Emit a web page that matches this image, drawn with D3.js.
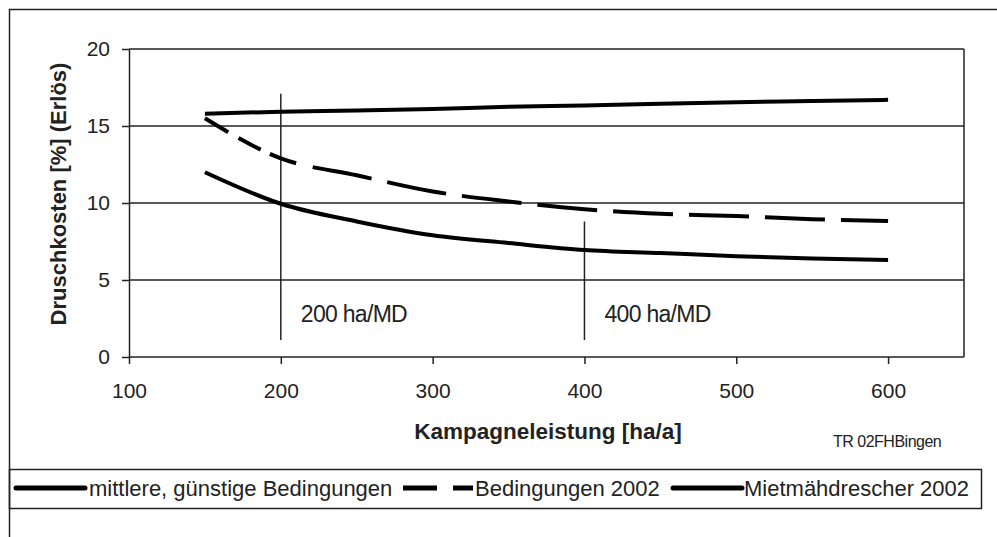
<!DOCTYPE html>
<html lang="de">
<head>
<meta charset="UTF-8">
<title>Druschkosten</title>
<script src="https://d3js.org/d3.v7.min.js"></script>
<style>
  body { margin: 0; background: #fff; }
  svg { display: block; font-family: "Liberation Sans", Arial, sans-serif; }
  .tick text { fill: #222; font-size: 21px; }
  .axis path, .axis line { stroke: #222; stroke-width: 1.5px; }
  .grid line { stroke: #222; stroke-width: 1.5px; }
</style>
</head>
<body>
<div id="chart"></div>
<script>
  // values
  const xValues = [150, 200, 250, 300, 350, 400, 450, 500, 550, 600];
  const mittlere = [12.0, 9.95, 8.8, 7.9, 7.4, 6.95, 6.75, 6.55, 6.4, 6.3];
  const bedingungen2002 = [15.5, 12.9, 11.8, 10.75, 10.1, 9.6, 9.3, 9.15, 8.95, 8.83];
  const mietmaehdrescher = [15.8, 15.93, 16.0, 16.1, 16.25, 16.33, 16.45, 16.55, 16.62, 16.7];
  const seriesNames = ["mittlere, günstige Bedingungen", "Bedingungen 2002", "Mietmähdrescher 2002"];
  const xTicks = [100, 200, 300, 400, 500, 600];
  const yTicks = [0, 5, 10, 15, 20];
  // vertical marker lines: x, from y, to y, label
  const markers = [
    { x: 200, y0: 1.1, y1: 17.1, label: "200 ha/MD" },
    { x: 400, y0: 1.1, y1: 8.8, label: "400 ha/MD" }
  ];

  const width = 997, height = 537;
  const plot = { left: 129, top: 49, right: 964, bottom: 357 };

  const svg = d3.select("#chart").append("svg")
    .attr("width", width)
    .attr("height", height);

  // outer frame
  svg.append("rect")
    .attr("x", 9.5).attr("y", 9.5)
    .attr("width", width).attr("height", height)
    .attr("fill", "none").attr("stroke", "#222").attr("stroke-width", 1.5);

  const x = d3.scaleLinear().domain([100, 650]).range([plot.left, plot.right]);
  const y = d3.scaleLinear().domain([0, 20]).range([plot.bottom, plot.top]);

  // horizontal grid
  svg.append("g").attr("class", "grid")
    .selectAll("line")
    .data(yTicks.filter(d => d > 0))
    .join("line")
    .attr("x1", plot.left).attr("x2", plot.right)
    .attr("y1", d => y(d)).attr("y2", d => y(d));

  // right border of the plot area
  svg.append("line")
    .attr("x1", plot.right).attr("x2", plot.right)
    .attr("y1", plot.top).attr("y2", plot.bottom)
    .attr("stroke", "#222").attr("stroke-width", 1.5);

  svg.append("g").attr("class", "axis")
    .attr("transform", `translate(0,${plot.bottom})`)
    .call(d3.axisBottom(x).tickValues(xTicks).tickSize(7).tickPadding(19).tickSizeOuter(0))
    .call(g => g.select(".domain").attr("d", `M${plot.left},0H${plot.right}`));

  svg.append("g").attr("class", "axis")
    .attr("transform", `translate(${plot.left},0)`)
    .call(d3.axisLeft(y).tickValues(yTicks).tickSize(7).tickPadding(12).tickSizeOuter(0));

  // marker lines
  svg.append("g").selectAll("line")
    .data(markers)
    .join("line")
    .attr("x1", d => x(d.x)).attr("x2", d => x(d.x))
    .attr("y1", d => y(d.y0)).attr("y2", d => y(d.y1))
    .attr("stroke", "#222").attr("stroke-width", 1.5);

  svg.append("g").selectAll("text")
    .data(markers)
    .join("text")
    .attr("x", d => x(d.x) + 20)
    .attr("y", y(2.3))
    .attr("font-size", 23)
    .attr("letter-spacing", -0.7)
    .attr("fill", "#222")
    .text(d => d.label);

  const line = d3.line()
    .x((d, i) => x(xValues[i]))
    .y(d => y(d))
    .curve(d3.curveMonotoneX);

  const dash = "27,12,25,10,28,17," + d3.range(10).map(() => "60,16").join(",");

  const series = [
    { values: mittlere, dash: null },
    { values: bedingungen2002, dash: dash },
    { values: mietmaehdrescher, dash: null }
  ];

  svg.append("g").selectAll("path")
    .data(series)
    .join("path")
    .attr("d", d => line(d.values))
    .attr("fill", "none")
    .attr("stroke", "#000")
    .attr("stroke-width", 4)
    .attr("stroke-dasharray", d => d.dash);

  // axis titles
  svg.append("text")
    .attr("x", 548).attr("y", 439)
    .attr("text-anchor", "middle")
    .attr("font-size", 22.5).attr("font-weight", "bold")
    .attr("fill", "#222")
    .text("Kampagneleistung [ha/a]");

  svg.append("text")
    .attr("transform", `translate(66,${(plot.top + plot.bottom) / 2 - 9}) rotate(-90)`)
    .attr("text-anchor", "middle")
    .attr("font-size", 22).attr("font-weight", "bold")
    .attr("fill", "#222")
    .text("Druschkosten [%] (Erlös)");

  svg.append("text")
    .attr("x", 833).attr("y", 447)
    .attr("font-size", 16).attr("letter-spacing", -0.5)
    .attr("fill", "#222")
    .text("TR 02FHBingen");

  // legend
  const legend = svg.append("g");
  legend.append("rect")
    .attr("x", 9.5).attr("y", 469.5)
    .attr("width", 972).attr("height", 39)
    .attr("fill", "none").attr("stroke", "#222").attr("stroke-width", 1.5);

  const legendItems = [
    { name: seriesNames[0], x0: 16, x1: 85, tx: 89, dash: null },
    { name: seriesNames[1], x0: 403, x1: 473, tx: 475, dash: "34,16,20" },
    { name: seriesNames[2], x0: 673, x1: 742, tx: 744, dash: null }
  ];

  legend.selectAll("line")
    .data(legendItems)
    .join("line")
    .attr("x1", d => d.x0).attr("x2", d => d.x1)
    .attr("y1", 488).attr("y2", 488)
    .attr("stroke", "#000")
    .attr("stroke-width", 5)
    .attr("stroke-linecap", d => d.dash ? "butt" : "round")
    .attr("stroke-dasharray", d => d.dash);

  legend.selectAll("text")
    .data(legendItems)
    .join("text")
    .attr("x", d => d.tx).attr("y", 496)
    .attr("font-size", 22)
    .attr("fill", "#222")
    .text(d => d.name);
</script>
</body>
</html>
